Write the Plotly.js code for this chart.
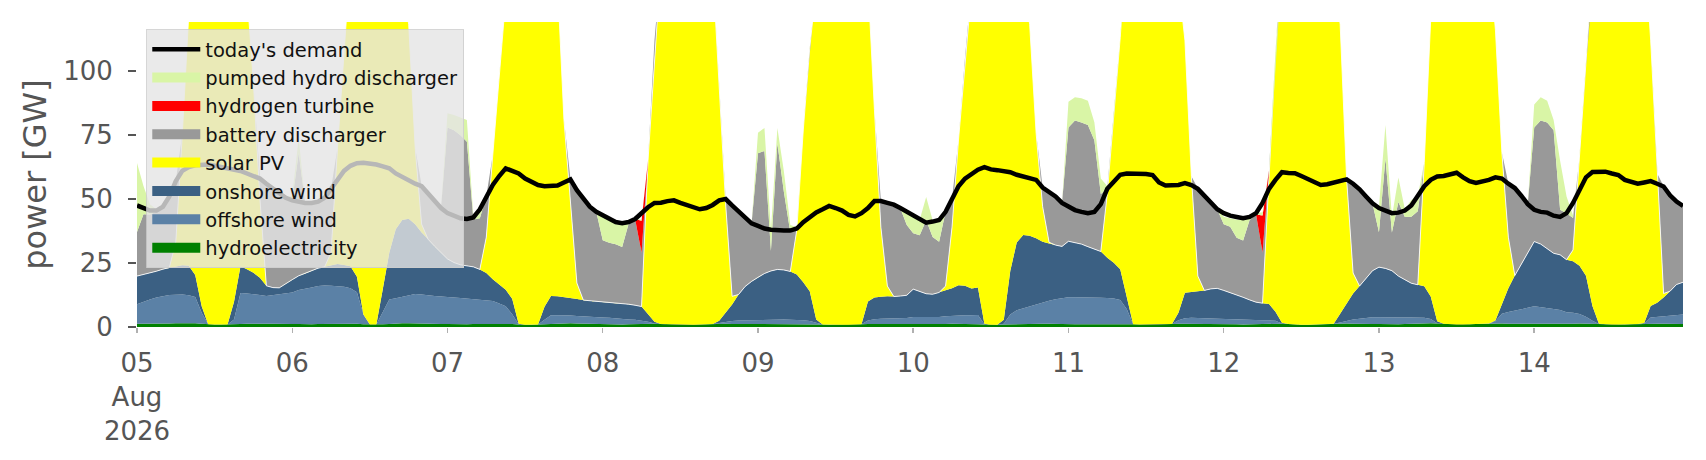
<!DOCTYPE html>
<html>
<head>
<meta charset="utf-8">
<title>power [GW]</title>
<script src="https://cdn.plot.ly/plotly-3.0.1.min.js"></script>
<style>
  html, body { margin: 0; padding: 0; background: #ffffff; }
  #chart { width: 1706px; height: 460px; }
</style>
</head>
<body>
<div id="chart"></div>
<script>
// Hourly values in GW, 05 Aug 2026 00:00 .. 14 Aug 2026 23:00, one row per day.

var DAY_TICKS = ["2026-08-05", "2026-08-06", "2026-08-07", "2026-08-08", "2026-08-09",
  "2026-08-10", "2026-08-11", "2026-08-12", "2026-08-13", "2026-08-14"];
var DAY_LABELS = ["05<br>Aug<br>2026", "06", "07", "08", "09", "10", "11", "12", "13", "14"];
var Y_TICKS = [0, 25, 50, 75, 100];

var DEMAND = [
  47.5, 46.5, 45.5, 45.5, 47, 51, 57, 61, 62.5, 63.2, 63.5, 63.5, 63, 62.5, 62, 61.5, 61, 60, 59, 58, 56, 54, 52, 50.5,
  49.5, 49, 48.5, 48.5, 49, 50.5, 54, 57.5, 61, 63, 64, 64.2, 64, 63.5, 62.8, 62, 60, 58.5, 57.5, 56, 55, 52, 49, 46.5,
  44.5, 43.5, 42.5, 42.2, 42.8, 46, 51, 55.5, 59, 62, 61, 60, 58, 56.5, 55.5, 55, 55, 55.3, 56.5, 57.7, 53.5, 50, 47, 45,
  43.5, 42, 41, 40.6, 41, 42.2, 44.5, 46.8, 48.5, 48.6, 49.2, 49.5, 48.5, 47.7, 46.8, 46, 46.5, 47.7, 49.5, 50, 47.5, 45, 42.5, 40.5,
  39.5, 38.5, 38, 37.7, 37.7, 37.7, 38.5, 41, 43, 44.8, 46, 47.3, 46.5, 45.5, 43.8, 43.2, 44.5, 46.5, 49.2, 49.2, 48.5, 47.8, 46.5, 45,
  43.5, 42, 40.8, 41.2, 41.8, 45, 50, 55, 58, 60, 61.5, 62.5, 61.6, 61.3, 61.1, 60.5, 59.5, 58.8, 58, 57.5, 54.5, 53, 51, 48.5,
  47, 45.7, 45, 44.5, 45, 48, 54, 57, 59.5, 60, 60, 60.2, 59.8, 59.4, 56.5, 55.3, 55.2, 55.5, 56.2, 55.5, 54, 51.5, 48.5, 46,
  44.5, 43.5, 43, 42.5, 43, 44.5, 48.5, 54, 57.5, 60.5, 60.2, 60.1, 59, 57.8, 56.5, 55.5, 55.8, 56.3, 57, 57.7, 56, 53.8, 51, 48.3,
  46.5, 45.5, 44.5, 44.7, 45.5, 47.5, 51, 55, 57.5, 58.8, 59, 59.5, 60.3, 58.5, 57, 56.3, 56.8, 57.5, 58.5, 58, 56, 54.3, 51.3, 48,
  45.8, 45, 44.7, 43.5, 43, 44.5, 48.5, 54, 58.5, 60.6, 60.7, 60.7, 60, 59.4, 57.5, 56.6, 56, 56.5, 57, 56, 54.9, 51.5, 49, 47.3
];

var HYDRO = [
  1.3, 1.3, 1.2, 1.2, 1.3, 1.4, 1.5, 1.6, 1.6, 1.5, 1.3, 1.1, 1.0, 1.0, 1.0, 1.1, 1.2, 1.3, 1.4, 1.4, 1.3, 1.3, 1.2, 1.2,
  1.2, 1.2, 1.1, 1.1, 1.2, 1.2, 1.3, 1.3, 1.4, 1.4, 1.3, 1.1, 1.0, 1.0, 1.1, 1.2, 1.4, 1.5, 1.5, 1.4, 1.4, 1.3, 1.3, 1.2,
  1.2, 1.1, 1.1, 1.1, 1.2, 1.2, 1.3, 1.4, 1.4, 1.3, 1.2, 1.0, 0.9, 0.9, 1.0, 1.1, 1.3, 1.4, 1.5, 1.5, 1.4, 1.3, 1.3, 1.2,
  1.1, 1.1, 1.0, 1.0, 1.1, 1.2, 1.2, 1.3, 1.3, 1.2, 1.1, 1.0, 0.9, 0.9, 0.9, 1.0, 1.1, 1.2, 1.3, 1.3, 1.2, 1.2, 1.1, 1.1,
  1.1, 1.0, 1.0, 1.0, 1.1, 1.1, 1.2, 1.2, 1.2, 1.1, 1.0, 0.9, 0.9, 0.9, 0.9, 1.0, 1.1, 1.2, 1.2, 1.2, 1.2, 1.1, 1.1, 1.1,
  1.1, 1.1, 1.0, 1.0, 1.1, 1.2, 1.3, 1.3, 1.3, 1.2, 1.1, 1.0, 0.9, 0.9, 1.0, 1.1, 1.2, 1.3, 1.4, 1.4, 1.3, 1.3, 1.2, 1.2,
  1.2, 1.1, 1.1, 1.1, 1.2, 1.2, 1.3, 1.3, 1.3, 1.2, 1.1, 1.0, 1.0, 1.0, 1.0, 1.1, 1.2, 1.3, 1.3, 1.3, 1.3, 1.2, 1.2, 1.2,
  1.1, 1.1, 1.1, 1.0, 1.1, 1.2, 1.3, 1.4, 1.4, 1.3, 1.2, 1.0, 0.9, 0.9, 1.0, 1.1, 1.2, 1.3, 1.4, 1.4, 1.3, 1.2, 1.2, 1.2,
  1.2, 1.1, 1.1, 1.1, 1.2, 1.3, 1.4, 1.5, 1.5, 1.4, 1.3, 1.1, 1.0, 1.0, 1.1, 1.2, 1.3, 1.4, 1.4, 1.4, 1.3, 1.3, 1.2, 1.2,
  1.2, 1.1, 1.1, 1.1, 1.2, 1.2, 1.3, 1.4, 1.4, 1.3, 1.2, 1.1, 1.0, 1.0, 1.0, 1.1, 1.2, 1.3, 1.3, 1.3, 1.3, 1.2, 1.2, 1.2
];

var OFFSHORE_WIND = [
  7.6, 8.6, 9.5, 10.3, 10.8, 11.1, 11.1, 11.1, 10.8, 10.2, 4.3, 0, 0, 0, 0, 1.8, 12.1, 11.8, 11.5, 11.1, 10.8, 11.1, 11.5, 11.8,
  12.3, 13.3, 13.8, 14.3, 14.8, 15, 14.8, 14.7, 14.3, 13.7, 12.3, 3.8, 0, 0, 4.8, 9.5, 9.8, 10.3, 11.1, 11.5, 11.3, 11, 10.8, 10.7,
  10.6, 10.4, 10.2, 10, 9.8, 9.5, 9.3, 8.8, 7.8, 6.8, 3.8, 0.1, 0, 0, 0, 1.7, 3.3, 3.2, 3.1, 3, 2.9, 2.8, 2.7, 2.6,
  2.6, 2.5, 2.3, 2, 1.8, 1.6, 1.3, 0.8, 0.1, 0, 0, 0, 0, 0, 0, 0, 0, 0, 0.3, 0.8, 1.1, 1.3, 1.5, 1.6,
  1.7, 1.7, 1.8, 1.8, 1.8, 1.7, 1.6, 1.4, 1.1, 0.4, 0, 0, 0, 0, 0, 0, 0, 1.3, 1.8, 2, 2.1, 2.2, 2.3, 2.4,
  2.8, 2.8, 2.8, 2.8, 2.8, 3, 3.1, 3.3, 3.3, 3.4, 3.6, 0.1, 0, 0, 0.3, 3.8, 5.3, 6, 6.8, 7.6, 8.3, 9, 9.6, 10.1,
  10.4, 10.5, 10.5, 10.5, 10.4, 10.2, 10, 9.8, 9.3, 5.8, 0, 0, 0, 0, 0, 0, 0, 1.3, 2.1, 2.3, 2.3, 2.2, 2.1, 2,
  2, 1.8, 1.7, 1.6, 1.5, 1.4, 1.3, 1.2, 1, 0.1, 0, 0, 0, 0, 0, 0, 0, 0, 0.4, 1, 1.6, 2, 2.4, 2.6,
  2.6, 2.6, 2.6, 2.6, 2.5, 2.4, 2.3, 2.1, 1.6, 0.1, 0, 0, 0, 0, 0, 0, 0, 0, 0.8, 3.8, 4.6, 5.1, 5.6, 6.3,
  6.9, 6.7, 6.3, 5.9, 5.4, 4.6, 4.3, 3.7, 2.6, 1.1, 0, 0, 0, 0, 0, 0, 0, 0, 2.4, 2.6, 3, 3.2, 3.4, 3.7
];

var ONSHORE_WIND = [
  11, 10.6, 10.3, 10.3, 10.5, 10.7, 11.2, 11.4, 11.5, 8.6, 2.5, 0, 0, 0, 0, 7, 10.4, 9.5, 8.3, 6.7, 4, 3, 2.6, 4,
  5, 5.5, 6, 6.5, 7, 7.3, 8, 8.6, 8.5, 8.6, 6, 0, 0, 0, 9, 18.3, 27, 30, 29.7, 27.3, 24.2, 22, 19.5, 17,
  14.8, 13.7, 13, 12.8, 12.5, 11.8, 10.5, 8.5, 7.5, 6.5, 6, 0.2, 0, 0, 0, 5.1, 7.5, 7.4, 7, 6.8, 6.6, 6.4, 6.3, 6.2,
  6, 5.9, 6, 6.2, 6, 5.7, 5.5, 3, 0.7, 0, 0, 0, 0, 0, 0, 0, 0, 0, 0.8, 3.5, 6.5, 10.2, 13.2, 15.1,
  16.6, 18.2, 19.1, 19.7, 19.4, 18.9, 17.7, 14.9, 11.7, 1.4, 0, 0, 0, 0, 0, 0, 0, 7.5, 8.5, 8.6, 8.7, 8.6, 8.7, 8.9,
  10.9, 10, 9.2, 9, 9.6, 10.1, 10.7, 11.7, 11.5, 10.4, 10.7, 0.2, 0, 0, 1.5, 17, 26.5, 28.7, 27.5, 25.7, 23.7, 22.3, 21.2, 20.2,
  21.9, 21.3, 20.8, 19.8, 18.9, 18.1, 15.8, 14, 12, 5, 0, 0, 0, 0, 0, 0, 0, 3, 10, 10.1, 10.3, 10.9, 11.6, 11.9,
  11.2, 10.6, 9.8, 9, 8, 7.1, 6.7, 6.4, 3.6, 0.3, 0, 0, 0, 0, 0, 0, 0, 0, 3.4, 6.8, 10.2, 12.8, 15.4, 18.2,
  19.6, 19.2, 18.3, 16.2, 14.8, 13.4, 12.8, 12.3, 8.8, 0.7, 0, 0, 0, 0, 0, 0, 0, 0, 0.3, 4, 9.2, 13.7, 17.7, 21.5,
  25.3, 24.6, 23.3, 21.8, 21.6, 20.5, 20.1, 18.8, 16, 5.8, 0.1, 0, 0, 0, 0, 0, 0, 0.3, 4.5, 5.6, 7.2, 9.6, 12, 12.6
];

var SOLAR_PV = [
  0, 0, 0, 0, 0, 0, 9.5, 51, 98, 140, 182, 204, 214, 209, 194, 165, 121, 108, 74, 31, 0, 0, 0, 0,
  0, 0, 0, 0, 0, 0, 5, 45.5, 88, 126.5, 160.5, 195, 209, 209, 185, 151, 117, 93.5, 76, 30, 3.3, 0, 0, 0,
  0, 0, 0, 0, 0, 0, 14, 48.5, 81.5, 120.5, 159, 188.5, 198.8, 203.8, 198.8, 177, 148, 123.2, 69.5, 36, 6.3, 0, 0, 0,
  0, 0, 0, 0, 0, 0, 0, 60, 110, 148.8, 178.8, 198.8, 208.8, 208.8, 198.8, 183.8, 163.8, 138.8, 93.7, 42.5, 3.2, 0, 0, 0,
  0, 0, 0, 0, 0, 0, 17.5, 59.5, 95, 137, 168.8, 193.8, 203.8, 208.8, 198.8, 183.8, 158.8, 125, 73.5, 27.2, 4, 0, 0, 0,
  0, 0, 0, 0, 0, 1.7, 24, 56.8, 89, 125, 159.5, 188.5, 203.8, 208.8, 202, 178, 147, 100.1, 82.5, 41, 13.8, 0.5, 0, 0,
  0, 0, 0, 0, 0, 0, 25, 57, 90.5, 138, 173.8, 193.8, 208.8, 213.8, 203.8, 188.8, 163.8, 129.5, 98.7, 45.2, 6, 0, 0, 0,
  0, 0, 0, 0, 0, 0, 0, 52.2, 101.2, 148.4, 178.8, 198.8, 208.8, 208.8, 198.8, 183.8, 163.8, 138.8, 113, 48.5, 8, 0, 0, 0,
  0, 0, 0, 0, 0, 0, 0, 48.4, 108.4, 153, 178.8, 198.8, 208.8, 208.8, 198.8, 183.8, 163.8, 143.8, 113.7, 59, 20, 0, 0, 0,
  0, 0, 0, 0, 0, 0, 4.4, 42.3, 82.2, 131.9, 163.7, 188.8, 203.8, 208.8, 203.8, 188.8, 168.8, 148.5, 103.9, 50.6, 1.6, 0, 0, 0
];

var BATTERY = [
  17.2, 23.6, 23, 23.2, 24.5, 28, 24, 0, 0, 0, 0, 0, 0, 0, 0, 0, 0, 0, 0, 8, 40, 38.7, 36.7, 33.5,
  31, 48, 27.5, 26.5, 26, 27, 25, 0, 0, 0, 0, 0, 0, 0, 0, 0, 0, 0, 0, 0, 15, 18, 17.5, 17.6,
  51.4, 51.7, 50.6, 48.5, 18.5, 20, 16, 0, 0, 0, 0, 0, 0, 0, 0, 0, 0, 0, 0, 10.7, 36.5, 39.6, 36.8, 35,
  24.2, 23.4, 23, 22.1, 31.5, 33.7, 21, 0, 0, 0, 0, 0, 0, 0, 0, 0, 0, 0, 0, 2, 35.5, 32.3, 26.6, 22.6,
  48.5, 47.9, 7.9, 49.3, 30.6, 15.2, 0, 0, 0, 0, 0, 0, 0, 0, 0, 0, 0, 0, 0, 10.2, 32.5, 35.8, 34.3, 27.5,
  21.8, 22, 28.7, 22.4, 19.8, 29, 11, 0, 0, 0, 0, 0, 0, 0, 0, 0, 0, 0, 0, 0, 7.5, 20, 19, 17,
  44.5, 47.8, 47.5, 47.5, 42.5, 22.5, 2, 0, 0, 0, 0, 0, 0, 0, 0, 0, 0, 0, 0, 0, 34.2, 37.2, 33.6, 30.9,
  25.9, 25.7, 22.3, 22.2, 31.2, 34.3, 19.8, 0, 0, 0, 0, 0, 0, 0, 0, 0, 0, 0, 0, 0.2, 35, 37.8, 32, 26.3,
  13.6, 43, 14.9, 29, 24.5, 26, 28.7, 0, 0, 0, 0, 0, 0, 0, 0, 0, 0, 0, 0, 0, 21, 34.3, 26.8, 19,
  44.6, 48.3, 49.2, 48.1, 17.6, 18.2, 12.5, 0, 0, 0, 0, 0, 0, 0, 0, 0, 0, 0, 0, 0, 41.9, 37.5, 32.4, 29.8
];

var HYDROGEN = [
  0, 0, 0, 0, 0, 0, 0, 0, 0, 0, 0, 0, 0, 0, 0, 0, 0, 0, 0, 0, 0, 0, 0, 0,
  0, 0, 0, 0, 0, 0, 0, 0, 0, 0, 0, 0, 0, 0, 0, 0, 0, 0, 0, 0, 0, 0, 0, 0,
  0, 0, 0, 0, 0, 0, 0, 0, 0, 0, 0, 0, 0, 0, 0, 0, 0, 0, 0, 0, 0, 0, 0, 0,
  0, 0, 0, 0, 0, 0, 12.5, 0, 0, 0, 0, 0, 0, 0, 0, 0, 0, 0, 0, 0, 0, 0, 0, 0,
  0, 0, 0, 0, 0, 0, 0, 0, 0, 0, 0, 0, 0, 0, 0, 0, 0, 0, 0, 0, 0, 0, 0, 0,
  0, 0, 0, 0, 0, 0, 0, 0, 0, 0, 0, 0, 0, 0, 0, 0, 0, 0, 0, 0, 0, 0, 0, 0,
  0, 0, 0, 0, 0, 0, 0, 0, 0, 0, 0, 0, 0, 0, 0, 0, 0, 0, 0, 0, 0, 0, 0, 0,
  0, 0, 0, 0, 0, 0, 14.5, 0, 0, 0, 0, 0, 0, 0, 0, 0, 0, 0, 0, 0, 0, 0, 0, 0,
  0, 0, 0, 0, 0, 0, 0, 0, 0, 0, 0, 0, 0, 0, 0, 0, 0, 0, 0, 0, 0, 0, 0, 0,
  0, 0, 0, 0, 0, 0, 0, 0, 0, 0, 0, 0, 0, 0, 0, 0, 0, 0, 0, 0, 0, 0, 0, 0
];

var PUMPED_HYDRO = [
  27, 11, 4, 1, 0, 0, 0, 0, 0, 0, 0, 0, 0, 0, 0, 0, 0, 0, 0, 0, 0, 0, 0, 0,
  2, 6, 0, 0, 0, 0, 0, 0, 0, 0, 0, 0, 0, 0, 0, 0, 0, 0, 0, 0, 0, 0, 0, 0,
  5.5, 6, 7, 8.5, 1, 3.5, 0, 0, 0, 0, 0, 0, 0, 0, 0, 0, 0, 0, 0, 0, 0, 0, 0, 0,
  9.5, 9, 8.5, 9.1, 0.5, 0, 0.5, 0, 0, 0, 0, 0, 0, 0, 0, 0, 0, 0, 0, 0, 0, 0, 0, 0,
  8, 9, 8, 6, 8, 3, 1, 0, 0, 0, 0, 0, 0, 0, 0, 0, 0, 0, 0, 0, 0, 0, 0, 5,
  6.8, 6, 9.1, 6.5, 9.1, 0, 0, 0, 0, 0, 0, 0, 0, 0, 0, 0, 0, 0, 0, 0, 0, 0, 0, 0,
  10, 9.1, 9.5, 9.5, 7, 6, 1, 0, 0, 0, 0, 0, 0, 0, 0, 0, 0, 0, 0, 0, 0, 0, 0, 0,
  2.9, 3.2, 7, 8.2, 1.1, 0.5, 1.2, 0, 0, 0, 0, 0, 0, 0, 0, 0, 0, 0, 0, 0, 0, 0, 0, 0,
  10, 13, 6, 9.5, 3, 6.5, 6, 0, 0, 0, 0, 0, 0, 0, 0, 0, 0, 0, 0, 0, 0, 0, 0, 0,
  9, 9.1, 8.5, 4, 19.2, 6.5, 1, 0, 0, 0, 0, 0, 0, 0, 0, 0, 0, 0, 0, 0, 0, 0, 0, 0
];

(function () {
  "use strict";

  // bottom of the stack first
  var STACK = [
    { name: "hydroelectricity", values: HYDRO, color: "#008000", rank: 8 },
    { name: "offshore wind", values: OFFSHORE_WIND, color: "#5b81a6", rank: 7 },
    { name: "onshore wind", values: ONSHORE_WIND, color: "#3b6083", rank: 6 },
    { name: "solar PV", values: SOLAR_PV, color: "#ffff00", rank: 5, edge: true },
    { name: "battery discharger", values: BATTERY, color: "#999999", rank: 4 },
    { name: "hydrogen turbine", values: HYDROGEN, color: "#ff0000", rank: 3 },
    { name: "pumped hydro discharger", values: PUMPED_HYDRO, color: "#d9f5a6", rank: 2 }
  ];

  var FONT = '"DejaVu Sans", "Liberation Sans", sans-serif';

  function hourStamps(n) {
    var out = [];
    var t0 = Date.UTC(2026, 7, 5);
    for (var i = 0; i < n; i++) {
      var d = new Date(t0 + i * 3600000);
      out.push(d.toISOString().slice(0, 13).replace("T", " ") + ":00");
    }
    return out;
  }

  var times = hourStamps(DEMAND.length);
  var traces = [];

  STACK.forEach(function (s) {
    traces.push({
      type: "scatter",
      mode: "lines",
      x: times,
      y: s.values,
      stackgroup: "supply",
      fillcolor: s.color,
      line: s.edge ? { color: "rgba(255,255,255,0.85)", width: 1 } : { color: s.color, width: 0 },
      showlegend: false,
      hoverinfo: "skip"
    });
  });

  traces.push({
    type: "scatter",
    mode: "lines",
    name: "today's demand",
    x: times,
    y: DEMAND,
    line: { color: "#000000", width: 4.5 },
    legendrank: 1,
    hoverinfo: "skip"
  });

  // legend swatches: thick lines stand in for filled patches
  STACK.forEach(function (s) {
    traces.push({
      type: "scatter",
      mode: "lines",
      name: s.name,
      x: [null],
      y: [null],
      line: { color: s.color, width: 14 },
      legendrank: s.rank,
      hoverinfo: "skip"
    });
  });

  var layout = {
    width: 1706,
    height: 460,
    margin: { l: 137, r: 23, t: 22, b: 133, pad: 0 },
    paper_bgcolor: "#ffffff",
    plot_bgcolor: "#ffffff",
    font: { family: FONT, color: "#555555", size: 20 },
    showlegend: true,
    xaxis: {
      type: "date",
      range: [times[0], times[times.length - 1]],
      tickvals: DAY_TICKS,
      ticktext: DAY_LABELS,
      ticks: "outside",
      ticklen: 5,
      tickwidth: 1.5,
      tickcolor: "#b0b0b0",
      tickfont: { family: FONT, size: 26, color: "#555555" },
      ticklabelstandoff: 8,
      showgrid: false,
      zeroline: false,
      showline: false
    },
    yaxis: {
      range: [0, 119.2],
      tickvals: Y_TICKS,
      ticks: "outside",
      ticklen: 8,
      tickwidth: 1.5,
      tickcolor: "#555555",
      tickfont: { family: FONT, size: 26, color: "#555555" },
      ticklabelstandoff: 10,
      showgrid: false,
      zeroline: false,
      showline: false,
      title: {
        text: "power [GW]",
        font: { family: FONT, size: 32, color: "#555555" },
        standoff: 6
      }
    },
    legend: {
      x: 0.006,
      y: 0.977,
      xanchor: "left",
      yanchor: "top",
      bgcolor: "rgba(229,229,229,0.8)",
      bordercolor: "rgba(204,204,204,0.8)",
      borderwidth: 1,
      font: { family: FONT, size: 19.5, color: "#111111" },
      itemwidth: 48,
      traceorder: "normal"
    }
  };

  Plotly.newPlot("chart", traces, layout, { displayModeBar: false, staticPlot: true });
})();
</script>
</body>
</html>
